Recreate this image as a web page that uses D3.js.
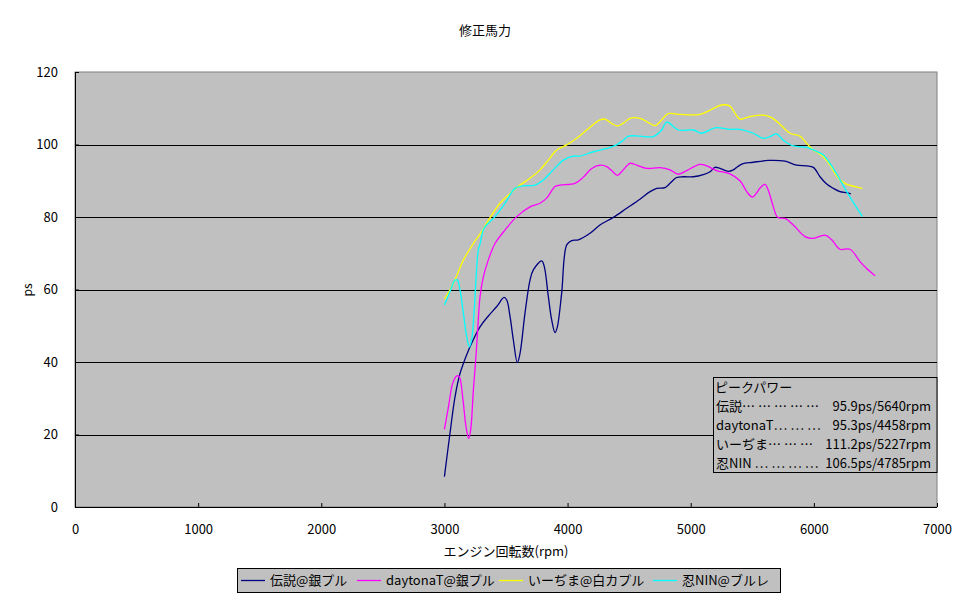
<!DOCTYPE html>
<html><head><meta charset="utf-8">
<script src="https://cdn.jsdelivr.net/npm/d3@7/dist/d3.min.js"></script>
<style>
body{margin:0;background:#fff;}
svg text{font-family:"Noto Sans CJK JP","Noto Sans",sans-serif;font-size:13px;fill:#000;}
</style></head>
<body><svg id="c" width="970" height="603"></svg>
<script>
const title = "修正馬力";
const xLabel = "エンジン回転数(rpm)";
const yLabel = "ps";
const xTicks = [0,1000,2000,3000,4000,5000,6000,7000];
const yTicks = [0,20,40,60,80,100,120];
const seriesNames = ["伝説@銀プル","daytonaT@銀プル","いーぢま@白カプル","忍NIN@ブルレ"];
const seriesColors = ["#000080","#FF00FF","#FFFF00","#00FFFF"];
const peakTitle = "ピークパワー";
const peakLabels = ["伝説……………","daytonaT………","いーぢま………","忍NIN …………"];
const peakValues = ["95.9ps/5640rpm","95.3ps/4458rpm","111.2ps/5227rpm","106.5ps/4785rpm"];

const rpmDensetsu = [3000,3045,3086,3127,3154,3208,3289,3357,3425,3484,3506,3533,3560,3592,3614,3654,3695,3722,3790,3811,3844,3871,3898,3917,3952,3993,4033,4088,4182,4263,4372,4480,4588,4670,4724,4791,4832,4886,4940,5021,5102,5157,5197,5238,5305,5346,5414,5508,5630,5766,5860,5942,5996,6050,6104,6158,6212,6267,6300];
const psDensetsu = [8.4,20.3,30.4,36.9,39.6,44.2,49.7,52.7,55.3,57.8,57.1,52.5,46,39.8,42.4,53.4,62.6,65.4,67.9,66.3,58,51.6,48.1,49.7,59,72.3,73.5,73.7,75.5,77.8,79.9,82.4,84.9,87,87.9,88.1,89.3,90.9,91.1,91.1,91.7,92.5,93.7,93.4,92.6,93,94.6,95.1,95.6,95.4,94.3,94.1,93.7,91.1,89.1,87.9,87,86.7,86.4];

const rpmDaytona = [3000,3033,3067,3100,3121,3148,3175,3197,3213,3235,3254,3270,3289,3316,3356,3411,3492,3587,3695,3776,3830,3898,3939,4060,4128,4196,4263,4318,4358,4404,4439,4507,4561,4642,4751,4832,4899,4967,5075,5130,5211,5319,5400,5455,5500,5536,5563,5603,5630,5671,5706,5766,5833,5928,5996,6091,6145,6212,6294,6375,6429,6497];
const psDaytona = [21.4,27.7,34.1,36.2,35.9,30.4,22.2,18.9,21.2,32.3,40.6,48.8,58,63.5,68.1,72.7,76.4,80.1,82.8,83.8,85.2,88.4,88.8,89.3,91,93.4,94.3,93.9,92.8,91.5,92.5,94.8,94.3,93.4,93.6,93,91.8,92.8,94.5,94.1,92.8,91.9,90,87,85.5,86.7,88,89,87.4,82.8,79.9,79.6,77.8,74.6,74.1,75,73.7,71.1,71.1,67.7,65.8,63.8];

const rpmIjima = [3000,3073,3154,3235,3311,3343,3451,3533,3614,3695,3776,3844,3912,3993,4074,4155,4263,4304,4358,4404,4453,4507,4588,4670,4710,4751,4818,4913,5075,5170,5251,5319,5360,5400,5481,5590,5657,5725,5806,5887,5942,5996,6077,6131,6199,6267,6334,6394];
const psIjima = [57.3,61.7,68.1,72.7,76.4,78.3,83.8,86.5,88.8,90.7,93,95.7,98.5,99.9,101.7,104,106.8,107,105.8,105.1,105.9,107.2,107.2,105.8,105.2,106.3,108.5,108.3,108.3,109.7,110.9,110.6,108.6,107,107.7,108.1,107.4,105.6,103.1,102.3,100.3,98.5,96.6,94.3,90.7,89,88.4,87.9];

const rpmNin = [3000,3045,3086,3105,3127,3154,3181,3202,3221,3240,3256,3275,3289,3311,3329,3411,3492,3573,3641,3736,3803,3884,3966,4047,4101,4209,4318,4399,4453,4494,4588,4697,4764,4805,4899,5021,5089,5197,5319,5400,5508,5590,5644,5698,5752,5833,5942,5996,6077,6131,6199,6267,6334,6394];
const psNin = [55.7,59.4,62.6,62.6,59.9,53.4,47,44.2,46.1,53.4,62.6,70.9,72.5,76,77.3,80.1,83.8,87.9,88.6,88.8,90.2,93,95.7,96.8,96.8,98,98.9,99.9,101.2,102.3,102.3,102.2,104,106.2,104,104,103.1,104.6,104.2,104.2,103.1,101.7,102.2,102.9,101.2,99.6,99.2,98.5,97.1,94.8,91.1,87,83.3,80.1];

const seriesRpm = [rpmDensetsu,rpmDaytona,rpmIjima,rpmNin];
const seriesPs = [psDensetsu,psDaytona,psIjima,psNin];

const svg = d3.select("#c");
const L=75,T=72,R=937,B=507;
const x = d3.scaleLinear().domain([0,7000]).range([L,R]);
const y = d3.scaleLinear().domain([0,120]).range([B,T]);

svg.append("text").attr("x",485).attr("y",35).attr("text-anchor","middle").text(title);

svg.append("rect").attr("x",L).attr("y",T).attr("width",R-L).attr("height",B-T)
  .attr("fill","#C0C0C0").attr("stroke","#808080").attr("stroke-width",1);

// gridlines
svg.append("g").selectAll("line").data(yTicks.filter(v=>v>0&&v<120)).join("line")
  .attr("x1",L).attr("x2",R).attr("y1",d=>Math.round(y(d))+0.5).attr("y2",d=>Math.round(y(d))+0.5)
  .attr("stroke","#000").attr("stroke-width",1.2);

// axes
const xAxis = d3.axisBottom(x).tickValues(xTicks).tickSize(-4).tickPadding(18).tickFormat(d3.format("d"));
const gx = svg.append("g").attr("transform",`translate(0,${B})`).call(xAxis);
gx.select(".domain").remove();
gx.selectAll("text").style("font-size","13px");
const yAxis = d3.axisLeft(y).tickValues(yTicks).tickSize(-4).tickPadding(17);
const gy = svg.append("g").attr("transform",`translate(${L},0)`).call(yAxis);
gy.select(".domain").remove();
gy.selectAll("text").style("font-size","13px");
svg.append("line").attr("x1",L).attr("x2",R).attr("y1",B+0.5).attr("y2",B+0.5).attr("stroke","#000");
svg.append("line").attr("x1",L+0.5).attr("x2",L+0.5).attr("y1",T).attr("y2",B).attr("stroke","#000");

svg.append("text").attr("x",506).attr("y",556).attr("text-anchor","middle").text(xLabel);
svg.append("text").attr("transform","translate(32,290) rotate(-90)").attr("text-anchor","middle").style("font-size","12px").text(yLabel);

// lines
const line = d3.line().x(d=>x(d[0])).y(d=>y(d[1])).curve(d3.curveCatmullRom.alpha(0.5));
seriesRpm.forEach((r,i)=>{
  const pts = r.map((v,j)=>[v,seriesPs[i][j]]);
  svg.append("path").attr("d",line(pts)).attr("fill","none")
    .attr("stroke",seriesColors[i]).attr("stroke-width",1.3);
});

// peak box
svg.append("rect").attr("x",713.5).attr("y",377.5).attr("width",223.5).attr("height",95)
  .attr("fill","#C0C0C0").attr("stroke","#000");
svg.append("text").attr("x",715).attr("y",392).text(peakTitle);
peakLabels.forEach((lab,i)=>{
  const m = lab.match(/^(.*?)(…+)$/);
  const t = svg.append("text").attr("y",411+i*19);
  t.append("tspan").attr("x",716).text(m[1]);
  t.append("tspan").style("letter-spacing","3px").text(m[2]);
  t.append("tspan").attr("x",931).attr("text-anchor","end").text(peakValues[i]);
});

// bottom legend
svg.append("rect").attr("x",237.5).attr("y",568.5).attr("width",543).attr("height",24)
  .attr("fill","#C0C0C0").attr("stroke","#000");
const lx = [241,357,499,653];
seriesNames.forEach((n,i)=>{
  svg.append("line").attr("x1",lx[i]).attr("x2",lx[i]+24).attr("y1",580.5).attr("y2",580.5)
    .attr("stroke",seriesColors[i]).attr("stroke-width",1.3);
  svg.append("text").attr("x",lx[i]+29).attr("y",585).text(n);
});
</script></body></html>
